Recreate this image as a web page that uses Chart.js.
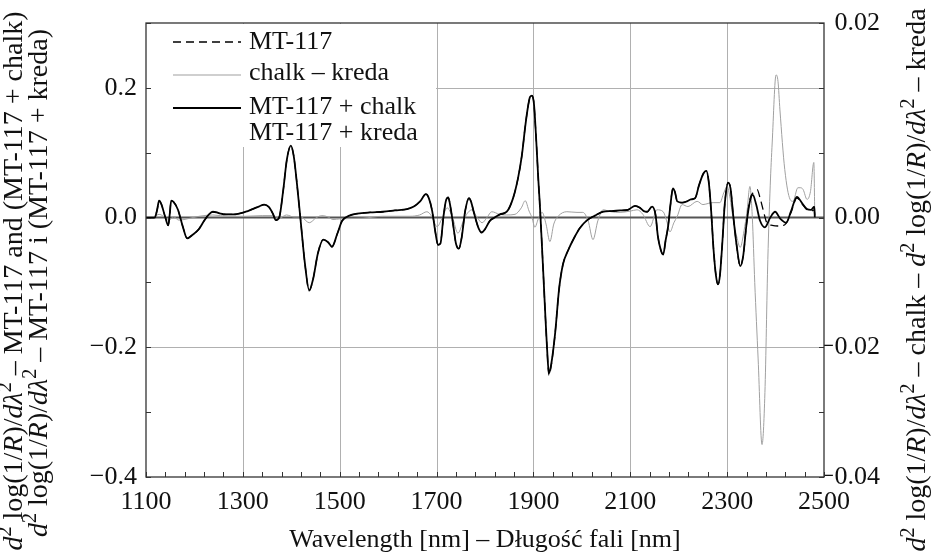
<!DOCTYPE html>
<html>
<head>
<meta charset="utf-8">
<script src="https://cdn.jsdelivr.net/npm/chart.js@4.4.0/dist/chart.umd.min.js"></script>
<style>
  html, body { margin: 0; padding: 0; background: #fff; }
</style>
</head>
<body>
<canvas id="plot" width="934" height="557"></canvas>
<script>
/* second derivative spectra, MT-117 with / without chalk (kreda) */

// MT-117 + chalk (left axis)
const mixWl = [1100,1118,1123,1127,1132,1140,1146,1149,1152,1157,1166,1176,1185,1197,1209,1220,1230,1238,1250,1265,1280,1306,1320,1333,1344,1354,1362,1368,1375,1383,1391,1399,1405,1412,1420,1428,1437,1445,1455,1466,1476,1484,1495,1505,1520,1536,1563,1589,1614,1639,1653,1666,1678,1684,1691,1697,1703,1708,1714,1719,1724,1729,1735,1740,1746,1752,1759,1767,1771,1778,1786,1793,1800,1810,1820,1831,1845,1858,1868,1876,1883,1889,1893,1897,1901,1905,1910,1914,1920,1924,1928,1932,1937,1945,1953,1961,1972,1985,1996,2011,2027,2044,2062,2079,2095,2110,2120,2128,2135,2145,2152,2157,2163,2168,2173,2178,2183,2188,2192,2197,2207,2217,2225,2234,2242,2251,2257,2262,2267,2272,2277,2281,2285,2290,2295,2302,2307,2313,2320,2327,2333,2340,2347,2353,2360,2368,2378,2389,2399,2410,2422,2432,2444,2455,2465,2473,2480,2481];
const mixVal = [0,0,0.012,0.026,0.02,0.0,-0.012,0.005,0.026,0.024,0.012,-0.014,-0.032,-0.026,-0.018,-0.005,0.005,0.009,0.007,0.005,0.005,0.009,0.013,0.017,0.020,0.016,0.006,-0.004,0.0,0.04,0.09,0.111,0.095,0.05,-0.01,-0.07,-0.112,-0.095,-0.055,-0.034,-0.038,-0.045,-0.025,-0.005,0.003,0.006,0.008,0.009,0.011,0.013,0.017,0.025,0.036,0.03,0.01,-0.02,-0.042,-0.04,0.0,0.025,0.031,0.015,-0.015,-0.04,-0.048,-0.03,0.01,0.03,0.025,0.005,-0.015,-0.023,-0.018,-0.005,0.0,0.005,0.009,0.030,0.06,0.095,0.14,0.172,0.186,0.188,0.176,0.13,0.06,0.01,-0.08,-0.142,-0.2,-0.24,-0.225,-0.177,-0.11,-0.072,-0.05,-0.03,-0.016,-0.004,0.003,0.009,0.010,0.011,0.012,0.018,0.015,0.010,0.009,0.017,0.005,-0.029,-0.05,-0.057,-0.035,-0.014,0.02,0.045,0.04,0.025,0.023,0.025,0.028,0.03,0.05,0.068,0.072,0.055,0.01,-0.05,-0.09,-0.103,-0.09,-0.04,0.02,0.054,0.045,0.0,-0.045,-0.075,-0.06,-0.01,0.025,0.035,0.02,-0.005,-0.015,0.0,0.009,-0.002,-0.008,0.01,0.032,0.022,0.013,0.012,0.017,0];

// MT-117 alone (left axis, dashed)
const mtWl = [1100,1118,1123,1127,1132,1140,1146,1149,1152,1157,1166,1176,1185,1197,1209,1220,1230,1238,1250,1265,1280,1306,1320,1333,1344,1354,1362,1368,1375,1383,1391,1399,1405,1412,1420,1428,1437,1445,1455,1466,1476,1484,1495,1505,1520,1536,1563,1589,1614,1639,1653,1666,1678,1684,1691,1697,1703,1708,1714,1719,1724,1729,1735,1740,1746,1752,1759,1767,1771,1778,1786,1793,1800,1810,1820,1831,1845,1858,1868,1876,1883,1889,1893,1897,1901,1905,1910,1914,1920,1924,1928,1932,1937,1945,1953,1961,1972,1985,1996,2011,2027,2044,2062,2079,2095,2110,2120,2128,2135,2145,2152,2157,2163,2168,2173,2178,2183,2188,2192,2197,2207,2217,2225,2234,2242,2251,2257,2262,2267,2272,2277,2281,2285,2290,2295,2302,2307,2313,2320,2327,2333,2340,2347,2356,2362,2368,2375,2382,2393,2405,2419,2432,2444,2455,2465,2473,2480,2481];
const mtVal = [0,0,0.012,0.026,0.02,0.0,-0.012,0.005,0.026,0.024,0.012,-0.014,-0.032,-0.026,-0.018,-0.005,0.005,0.009,0.007,0.005,0.005,0.009,0.013,0.017,0.020,0.016,0.006,-0.004,0.0,0.04,0.09,0.111,0.095,0.05,-0.01,-0.07,-0.113,-0.095,-0.055,-0.034,-0.038,-0.045,-0.025,-0.005,0.003,0.006,0.008,0.009,0.011,0.013,0.017,0.025,0.036,0.03,0.01,-0.02,-0.042,-0.04,0.0,0.025,0.031,0.015,-0.015,-0.04,-0.048,-0.03,0.01,0.03,0.025,0.005,-0.015,-0.023,-0.018,-0.005,0.0,0.005,0.009,0.030,0.06,0.095,0.14,0.172,0.186,0.188,0.176,0.13,0.06,0.01,-0.08,-0.142,-0.2,-0.243,-0.227,-0.177,-0.11,-0.072,-0.05,-0.03,-0.016,-0.004,0.003,0.009,0.010,0.011,0.012,0.018,0.015,0.010,0.009,0.017,0.005,-0.029,-0.05,-0.057,-0.035,-0.014,0.02,0.045,0.04,0.025,0.023,0.025,0.028,0.03,0.05,0.068,0.072,0.055,0.01,-0.05,-0.09,-0.103,-0.09,-0.04,0.02,0.054,0.045,0.0,-0.045,-0.075,-0.06,-0.01,0.028,0.04,0.043,0.03,0.01,-0.008,-0.012,-0.013,-0.011,0.008,0.030,0.021,0.012,0.010,0.012,0];

// chalk - kreda (right axis, grey)
const chalkWl = [1100,1118,1127,1136,1147,1157,1168,1185,1210,1238,1270,1306,1340,1362,1375,1390,1405,1420,1437,1452,1463,1476,1486,1500,1548,1589,1645,1665,1680,1690,1701,1712,1722,1733,1744,1758,1773,1784,1794,1804,1814,1830,1845,1862,1875,1883,1891,1897,1903,1910,1918,1926,1934,1942,1951,1969,1990,2002,2013,2023,2033,2044,2060,2079,2100,2114,2126,2141,2155,2168,2175,2182,2190,2197,2207,2219,2238,2250,2262,2271,2285,2293,2300,2306,2312,2320,2327,2335,2341,2347,2352,2357,2364,2372,2378,2384,2389,2393,2401,2405,2409,2419,2430,2436,2446,2452,2457,2465,2472,2479,2481];
const chalkVal = [0,0.0002,0.0005,0.0002,-0.0004,0.0001,-0.0004,-0.0002,0.0002,0.0004,0.0002,0.0002,0.0003,0.0003,-0.0001,0.0004,0.0001,0.0001,-0.0008,0.0,0.0003,0.0001,-0.0003,-0.0002,-0.0001,0.0002,0.0002,0.0004,0.0009,0.0002,-0.0014,0.0,0.0015,0.0,-0.0024,0.0,0.0012,0.0,-0.0008,0.0,0.0009,0.0005,0.0004,0.0005,0.0015,0.0026,0.001,0.0,-0.0015,-0.0002,0.0008,-0.001,-0.0037,-0.001,0.0002,0.0009,0.0008,0.0008,-0.0005,-0.0034,-0.0005,0.0012,0.0009,0.0008,0.001,0.0012,0.0005,-0.0014,0.0012,0.0009,-0.0005,-0.0022,-0.0008,0.0002,0.002,0.0017,0.0025,0.002,0.0022,0.0023,0.0023,0.0038,0.0048,0.003,0.0,-0.003,-0.0046,-0.002,0.001,0.0048,0.0,-0.01,-0.0218,-0.035,-0.027,-0.0065,0.005,0.0115,0.022,0.021,0.0166,0.0074,0.0028,0.0025,0.0046,0.0046,0.0043,0.0028,0.004,0.0085,0];

// ticks and labels
const xLabelValues = [1100, 1300, 1500, 1700, 1900, 2100, 2300, 2500];
const xLabelTexts = ['1100', '1300', '1500', '1700', '1900', '2100', '2300', '2500'];
const xGridValues = [1300, 1500, 1700, 1900, 2100, 2300];
const leftTickValues = [-0.4, -0.3, -0.2, -0.1, 0, 0.1, 0.2, 0.3];
const leftTickTexts = ['\u22120.4', '', '\u22120.2', '', '0.0', '', '0.2', ''];
const rightTickValues = [-0.04, -0.03, -0.02, -0.01, 0, 0.01, 0.02, 0.03];
const rightTickTexts = ['\u22120.04', '', '\u22120.02', '', '0.00', '', '', '0.02'];
const yGridValues = [0.2, -0.2];

const legendLabels = ['MT-117', 'chalk \u2013 kreda', 'MT-117 + chalk', 'MT-117 + kreda'];
const xTitle = 'Wavelength [nm] \u2013 D\u0142ugo\u015b\u0107 fali [nm]';
const leftTitle1 = [['d','i'],['2','s'],[' log(1/',''],['R','i'],[')/',''],['d\u03bb','i'],['2','s'],[' \u2013 MT-117 and (MT-117 + chalk)','']];
const leftTitle2 = [['d','i'],['2','s'],[' log(1/',''],['R','i'],[')/',''],['d\u03bb','i'],['2','s'],[' \u2013 MT-117 i (MT-117 + kreda)','']];
const rightTitle = [['d','i'],['2','s'],[' log(1/',''],['R','i'],[')/',''],['d\u03bb','i'],['2','s'],[' \u2013 chalk \u2013 ',''],
                    ['d','i'],['2','s'],[' log(1/',''],['R','i'],[')/',''],['d\u03bb','i'],['2','s'],[' \u2013 kreda','']];

const FONT = '"Liberation Serif", "Times New Roman", serif';
const xMinorTicks = [];
for (let w = 1100; w <= 2500; w += 40) xMinorTicks.push(w);

function pts(wl, v) {
  return wl.map((w, i) => ({ x: w, y: v[i] }));
}

// draws a rotated line of text with italic / superscript parts
function drawRich(ctx, parts, cx, cy, size) {
  const fontOf = st => (st === 'i' ? 'italic ' : '') + (st === 's' ? Math.round(size * 0.7) : size) + 'px ' + FONT;
  let total = 0;
  parts.forEach(p => { ctx.font = fontOf(p[1]); total += ctx.measureText(p[0]).width; });
  ctx.save();
  ctx.translate(cx, cy);
  ctx.rotate(-Math.PI / 2);
  ctx.textBaseline = 'alphabetic';
  ctx.textAlign = 'left';
  ctx.fillStyle = '#111';
  let x = -total / 2;
  const base = size * 0.32;
  parts.forEach(p => {
    ctx.font = fontOf(p[1]);
    ctx.fillText(p[0], x, p[1] === 's' ? base - size * 0.4 : base);
    x += ctx.measureText(p[0]).width;
  });
  ctx.restore();
}

const framePlugin = {
  id: 'frame',
  beforeDatasetsDraw(chart) {
    const ctx = chart.ctx, a = chart.chartArea;
    const sx = chart.scales.x, sy = chart.scales.y;
    ctx.save();
    ctx.strokeStyle = '#b0b0b0';
    ctx.lineWidth = 1;
    xGridValues.forEach(v => {
      const px = Math.round(sx.getPixelForValue(v)) + 0.5;
      ctx.beginPath(); ctx.moveTo(px, a.top); ctx.lineTo(px, a.bottom); ctx.stroke();
    });
    yGridValues.forEach(v => {
      const py = Math.round(sy.getPixelForValue(v)) + 0.5;
      ctx.beginPath(); ctx.moveTo(a.left, py); ctx.lineTo(a.right, py); ctx.stroke();
    });
    // legend background hides the grid behind it
    ctx.fillStyle = '#fff';
    ctx.fillRect(a.left + 1, a.top + 1, 289, 123);
    // zero line
    const z = sy.getPixelForValue(0);
    ctx.strokeStyle = '#555';
    ctx.lineWidth = 2;
    ctx.beginPath(); ctx.moveTo(a.left, z); ctx.lineTo(a.right, z); ctx.stroke();
    ctx.restore();
  },
  afterDatasetsDraw(chart) {
    const ctx = chart.ctx, a = chart.chartArea;
    const sx = chart.scales.x, sy = chart.scales.y, sy2 = chart.scales.y2;
    ctx.save();
    ctx.strokeStyle = '#333';
    ctx.lineWidth = 1.3;
    ctx.strokeRect(a.left, a.top, a.right - a.left, a.bottom - a.top);
    ctx.lineWidth = 1;
    ctx.beginPath();
    xMinorTicks.forEach(v => {
      const px = Math.round(sx.getPixelForValue(v)) + 0.5;
      ctx.moveTo(px, a.bottom); ctx.lineTo(px, a.bottom - 5);
    });
    leftTickValues.forEach(v => {
      const py = Math.round(sy.getPixelForValue(v)) + 0.5;
      ctx.moveTo(a.left, py); ctx.lineTo(a.left + 5, py);
    });
    rightTickValues.forEach(v => {
      const py = Math.round(sy2.getPixelForValue(v)) + 0.5;
      ctx.moveTo(a.right, py); ctx.lineTo(a.right - 5, py);
    });
    ctx.stroke();

    // legend
    const lx0 = a.left + 27, lx1 = a.left + 95, tx = a.left + 103;
    ctx.lineWidth = 1.4;
    ctx.strokeStyle = '#000';
    ctx.setLineDash([8, 5]);
    ctx.beginPath(); ctx.moveTo(lx0, a.top + 19); ctx.lineTo(lx1, a.top + 19); ctx.stroke();
    ctx.setLineDash([]);
    ctx.strokeStyle = '#a0a0a0';
    ctx.lineWidth = 1.2;
    ctx.beginPath(); ctx.moveTo(lx0, a.top + 52); ctx.lineTo(lx1, a.top + 52); ctx.stroke();
    ctx.strokeStyle = '#000';
    ctx.lineWidth = 1.8;
    ctx.beginPath(); ctx.moveTo(lx0, a.top + 85); ctx.lineTo(lx1, a.top + 85); ctx.stroke();
    ctx.fillStyle = '#111';
    ctx.font = '26px ' + FONT;
    ctx.textBaseline = 'middle';
    ctx.textAlign = 'left';
    const ly = [19, 50, 84, 110];
    legendLabels.forEach((t, i) => ctx.fillText(t, tx, a.top + ly[i]));

    // axis titles
    ctx.textAlign = 'center';
    ctx.fillText(xTitle, (a.left + a.right) / 2, 540);
    ctx.restore();
    drawRich(ctx, leftTitle1, 13, 281, 28);
    drawRich(ctx, leftTitle2, 38, 283, 28);
    drawRich(ctx, rightTitle, 916, 280, 28);
  }
};

const tickFont = { family: FONT, size: 26, lineHeight: 1 };

new Chart(document.getElementById('plot').getContext('2d'), {
  type: 'line',
  data: {
    datasets: [
      { label: 'MT-117 + chalk', data: pts(mixWl, mixVal), yAxisID: 'y', borderColor: '#000', borderWidth: 1.8,
        pointRadius: 0, cubicInterpolationMode: 'monotone', fill: false },
      { label: 'MT-117', data: pts(mtWl, mtVal), yAxisID: 'y', borderColor: '#000', borderWidth: 1.3, borderDash: [8, 5],
        pointRadius: 0, cubicInterpolationMode: 'monotone', fill: false },
      { label: 'chalk \u2013 kreda', data: pts(chalkWl, chalkVal), yAxisID: 'y2', borderColor: '#a0a0a0', borderWidth: 1,
        pointRadius: 0, cubicInterpolationMode: 'monotone', fill: false }
    ]
  },
  options: {
    responsive: false,
    animation: false,
    devicePixelRatio: 1,
    layout: { padding: { left: 0, right: 54, top: 23, bottom: 0 } },
    plugins: { legend: { display: false }, tooltip: { enabled: false } },
    scales: {
      x: {
        type: 'linear', min: 1100, max: 2500,
        grid: { display: false, drawTicks: false }, border: { display: false },
        afterBuildTicks: s => { s.ticks = xMinorTicks.map(v => ({ value: v })); },
        afterFit: s => { s.height = 80; },
        ticks: {
          autoSkip: false, maxRotation: 0, minRotation: 0, padding: 12, font: tickFont, color: '#111',
          callback: v => { const k = xLabelValues.indexOf(v); return k < 0 ? '' : xLabelTexts[k]; }
        }
      },
      y: {
        type: 'linear', position: 'left', min: -0.4, max: 0.3,
        grid: { display: false, drawTicks: false }, border: { display: false },
        afterBuildTicks: s => { s.ticks = leftTickValues.map(v => ({ value: v })); },
        afterFit: s => { s.width = 146; },
        ticks: { padding: 9, font: tickFont, color: '#111', callback: (v, i) => leftTickTexts[i] }
      },
      y2: {
        type: 'linear', position: 'right', min: -0.04, max: 0.03,
        grid: { display: false, drawTicks: false }, border: { display: false },
        afterBuildTicks: s => { s.ticks = rightTickValues.map(v => ({ value: v })); },
        afterFit: s => { s.width = 56; },
        ticks: { padding: 0, crossAlign: 'far', font: tickFont, color: '#111', callback: (v, i) => rightTickTexts[i] }
      }
    }
  },
  plugins: [framePlugin]
});
</script>
</body>
</html>
